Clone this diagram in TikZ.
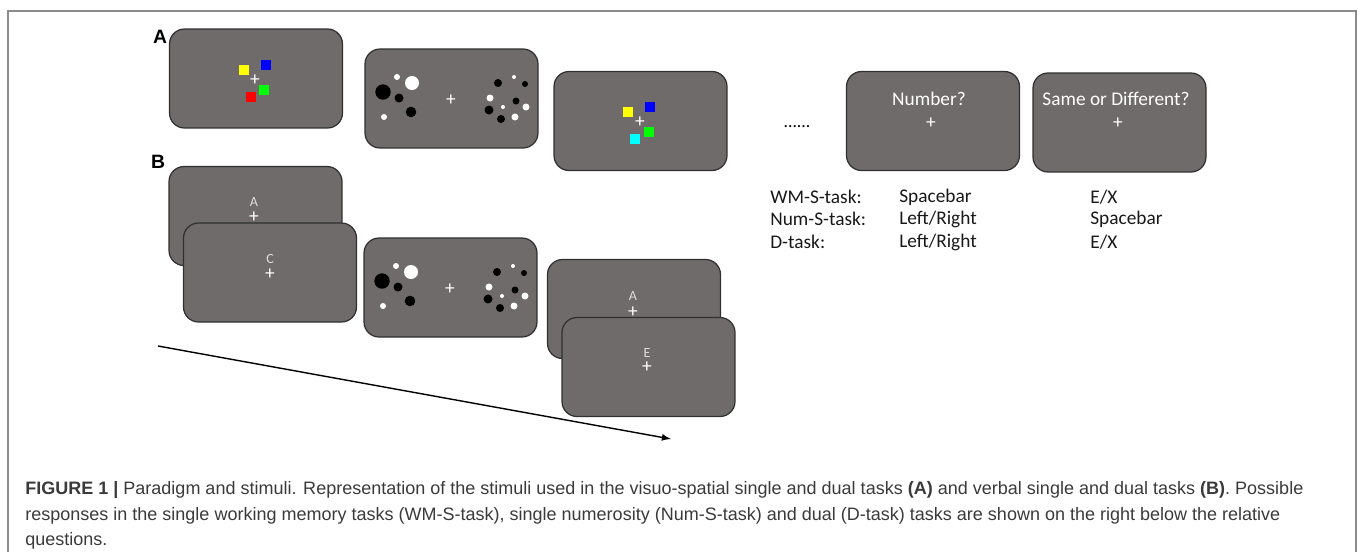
\documentclass[tikz,border=0pt]{standalone}
\usepackage{fontspec}
\setmainfont{Carlito}
\newfontfamily\headfont{Liberation Sans}
\usetikzlibrary{arrows}

\definecolor{screengray}{HTML}{6F6B6A}
\definecolor{screenline}{HTML}{303030}
\definecolor{framegray}{HTML}{8C8C8C}
\definecolor{captext}{HTML}{3A3A3A}
\definecolor{lettergray}{HTML}{DDDDDD}
\definecolor{sqcyan}{HTML}{00FFFF}
\definecolor{sqgreen}{HTML}{00FF00}
\definecolor{sqblue}{HTML}{0000FF}
\definecolor{sqyellow}{HTML}{FFFF00}
\definecolor{sqred}{HTML}{FF0000}

\tikzset{
  screen/.style={draw=screenline, fill=screengray, line width=0.7pt, rounded corners=0.3cm, minimum width=3.46cm, minimum height=1.98cm, inner sep=0pt},
  fixcross/.style={text=white, font=\fontsize{11}{13}\selectfont, inner sep=0pt},
  qtext/.style={text=white, font=\fontsize{11}{13}\selectfont, inner sep=0pt},
  letter/.style={text=lettergray, font=\fontsize{8}{10}\selectfont, inner sep=0pt},
  resp/.style={anchor=west, text=black!90, font=\fontsize{11}{13}\selectfont, inner sep=0pt},
  panel/.style={font=\headfont\bfseries\fontsize{11}{13}\selectfont, inner sep=0pt},
  capline/.style={anchor=base west, text=captext, font=\headfont\fontsize{10.25}{12}\selectfont, inner sep=0pt}
}

\def\blackdots{-68/-8/7.7, -52/-2/4.5, -40/12/5.3, 47/-17/4, 74/-16/3, 65/1/3.5, 38/10/4.5, 50/19/4}
\def\whitedots{-54/-23/3, -39/-17/7, -67/17/3, 63/-23/2, 39/-2/3.5, 52/7/2, 75/7/3.5, 64/17/3.5}

\begin{document}
\begin{tikzpicture}[x=0.02cm,y=-0.02cm]
\useasboundingbox (0,0) rectangle (1358,552);
\draw [framegray, line width=0.8pt] (8,552) -- (8,11) -- (1356,11) -- (1356,552);

% A: visuo-spatial
\node [panel] (lA) at (160,37) {A};
\node [screen] (a1) at (256,78.5) {};
\node [screen] (a2) at (451.5,98.5) {};
\node [screen] (a3) at (640.5,121) {};
\begin{scope}[shift={(a1.center)}]
  \fill [sqyellow] (-17,-13.5) rectangle +(10,10);
  \fill [sqblue] (5,-18.5) rectangle +(10,10);
  \fill [sqgreen] (3,6.5) rectangle +(10,10);
  \fill [sqred] (-10,13.5) rectangle +(10,10);
\end{scope}
\node [fixcross] (a1c) at (255,80) {+};
\node [fixcross] (a2c) at (451,100) {+};
\begin{scope}[shift={(a2c.center)}]
  \foreach \x/\y/\r in \blackdots
    \fill [black] (\x,\y) circle [radius=\r*0.02cm];
  \foreach \x/\y/\r in \whitedots
    \fill [white] (\x,\y) circle [radius=\r*0.02cm];
\end{scope}
\begin{scope}[shift={(a3.center)}]
  \fill [sqyellow] (-17.5,-14) rectangle +(10,10);
  \fill [sqblue] (4.5,-19) rectangle +(10,10);
  \fill [sqgreen] (3.5,6) rectangle +(10,10);
  \fill [sqcyan] (-10.5,13) rectangle +(10,10);
\end{scope}
\node [fixcross] (a3c) at (640,122) {+};

\node (dots) at (797,127) {......};
\node [screen] (q1) at (933,121) {};
\node [screen] (q2) at (1119.5,122.5) {};
\node [qtext] (q1t) at (929,99) {Number?};
\node [fixcross] (q1c) at (931,123) {+};
\node [qtext] (q2t) at (1116,99) {Same or Different?};
\node [fixcross] (q2c) at (1118,123) {+};

\node [resp] (r1) at (770,197) {WM-S-task:};
\node [resp] (r2) at (770,219) {Num-S-task:};
\node [resp] (r3) at (770,242) {D-task:};
\node [resp] (r1n) at (899,197) {Spacebar};
\node [resp] (r2n) at (899,219) {Left/Right};
\node [resp] (r3n) at (899,242) {Left/Right};
\node [resp] (r1s) at (1090,197) {E/X};
\node [resp] (r2s) at (1090,219) {Spacebar};
\node [resp] (r3s) at (1090,242) {E/X};

% B: verbal
\node [panel] (lB) at (158,162) {B};
\node [screen] (b1) at (255.5,216) {};
\node [letter] (b1l) at (254,202) {A};
\node [fixcross] (b1c) at (254,217.5) {+};
\node [screen] (b2) at (270,272.5) {};
\node [letter] (b2l) at (270,259) {C};
\node [fixcross] (b2c) at (270,274.5) {+};
\node [screen] (b3) at (450.5,287.5) {};
\node [fixcross] (b3c) at (450,289) {+};
\begin{scope}[shift={(b3c.center)}]
  \foreach \x/\y/\r in \blackdots
    \fill [black] (\x,\y) circle [radius=\r*0.02cm];
  \foreach \x/\y/\r in \whitedots
    \fill [white] (\x,\y) circle [radius=\r*0.02cm];
\end{scope}
\node [screen] (b4) at (634,309) {};
\node [letter] (b4l) at (633,296) {A};
\node [fixcross] (b4c) at (633,312) {+};
\node [screen] (b5) at (648.5,367) {};
\node [letter] (b5l) at (647,353) {E};
\node [fixcross] (b5c) at (647,367.5) {+};

\coordinate (t0) at (158,346);
\coordinate (t1) at (671,439);
\draw [-latex, line width=0.8pt] (t0) -- (t1);

\node [capline] (cap1) at (25,494) {\textbf{FIGURE 1 |} Paradigm and stimuli. Representation of the stimuli used in the visuo-spatial single and dual tasks \textbf{(A)} and verbal single and dual tasks \textbf{(B)}. Possible};
\node [capline] (cap2) at (25,520) {responses in the single working memory tasks (WM-S-task), single numerosity (Num-S-task) and dual (D-task) tasks are shown on the right below the relative};
\node [capline] (cap3) at (25,545) {questions.};
\end{tikzpicture}
\end{document}
